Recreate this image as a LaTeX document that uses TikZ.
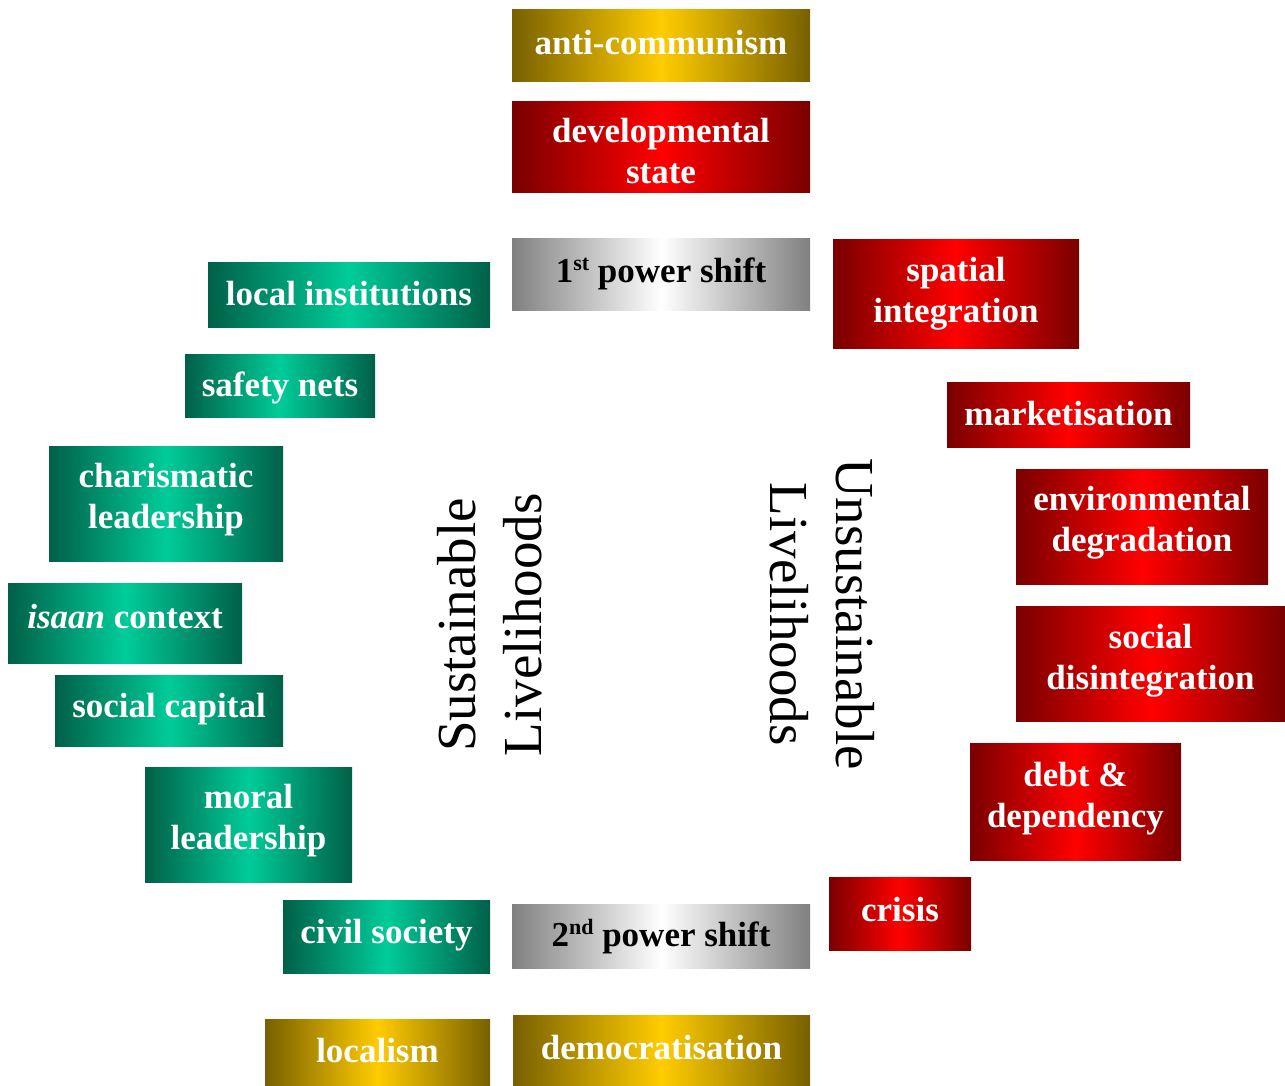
\documentclass[tikz,border=0pt]{standalone}
\usepackage{fontspec}
\setmainfont{Liberation Serif}
\definecolor{golddark}{RGB}{120,96,0}
\definecolor{goldlight}{RGB}{255,204,0}
\definecolor{reddark}{RGB}{122,0,0}
\definecolor{redlight}{RGB}{255,0,0}
\definecolor{silverdark}{RGB}{128,128,128}
\definecolor{silverlight}{RGB}{255,255,255}
\definecolor{tealdark}{RGB}{0,96,72}
\definecolor{teallight}{RGB}{0,204,153}
\newcommand{\supx}[1]{\raisebox{12pt}{\fontsize{22}{22}\selectfont #1}}
\tikzset{
  box/.style={rectangle, inner sep=0pt},
  boxtext/.style={inner sep=0pt, align=center,
    font=\fontsize{35}{41}\selectfont\bfseries, text=white},
  goldbox/.style={box, left color=golddark, right color=golddark, middle color=goldlight},
  redbox/.style={box, left color=reddark, right color=reddark, middle color=redlight},
  silverbox/.style={box, left color=silverdark, right color=silverdark, middle color=silverlight},
  tealbox/.style={box, left color=tealdark, right color=tealdark, middle color=teallight},
  biglabel/.style={align=center, font=\fontsize{55}{66}\selectfont, text=black, inner sep=0pt}
}
\begin{document}
\begin{tikzpicture}[x=1pt,y=-1pt]
\useasboundingbox (0,0) rectangle (1285,1086);
% centre column
\node[goldbox, minimum width=298pt, minimum height=72pt] (anti) at (661,46) {};
\node[boxtext, yshift=3pt] at (anti) {anti-communism};
\node[redbox, minimum width=298pt, minimum height=91pt] (dev) at (661,147.5) {};
\node[boxtext, yshift=-4pt] at (dev) {developmental\\state};
\node[silverbox, minimum width=298pt, minimum height=71pt] (ps1) at (661,274.5) {};
\node[boxtext, text=black, yshift=1pt] at (ps1) {1\supx{st} power shift};
\node[silverbox, minimum width=298pt, minimum height=64pt] (ps2) at (661,936) {};
\node[boxtext, text=black, yshift=-1pt] at (ps2) {2\supx{nd} power shift};
\node[goldbox, minimum width=297pt, minimum height=71pt] (democ) at (661.5,1050.5) {};
\node[boxtext, yshift=3pt] at (democ) {democratisation};
% left (teal)
\node[tealbox, minimum width=282pt, minimum height=65pt] (localinst) at (349,294.5) {};
\node[boxtext, yshift=1pt] at (localinst) {local institutions};
\node[tealbox, minimum width=190pt, minimum height=63pt] (safety) at (280,385.5) {};
\node[boxtext, yshift=-2pt] at (safety) {safety nets};
\node[tealbox, minimum width=234pt, minimum height=115pt] (charis) at (166,503.5) {};
\node[boxtext, yshift=4pt] at (charis) {charismatic\\leadership};
\node[tealbox, minimum width=234pt, minimum height=80pt] (isaan) at (125,623) {};
\node[boxtext, yshift=6pt] at (isaan) {\textit{isaan} context};
\node[tealbox, minimum width=228pt, minimum height=71pt] (soccap) at (169,710.5) {};
\node[boxtext, yshift=1pt] at (soccap) {social capital};
\node[tealbox, minimum width=207pt, minimum height=115pt] (moral) at (248.5,824.5) {};
\node[boxtext, yshift=4pt] at (moral) {moral\\leadership};
\node[tealbox, minimum width=207pt, minimum height=73pt] (civil) at (386.5,936.5) {};
\node[boxtext, yshift=1pt] at (civil) {civil society};
\node[goldbox, minimum width=225pt, minimum height=67pt] (localism) at (377.5,1052.5) {};
\node[boxtext, yshift=2pt] at (localism) {localism};
% right (red)
\node[redbox, minimum width=246pt, minimum height=108pt] (spatial) at (956,294) {};
\node[boxtext] at (spatial) {spatial\\integration};
\node[redbox, minimum width=243pt, minimum height=65pt] (market) at (1068.5,414.5) {};
\node[boxtext, yshift=1pt] at (market) {marketisation};
\node[redbox, minimum width=252pt, minimum height=115pt] (env) at (1142,526.5) {};
\node[boxtext, yshift=4pt] at (env) {environmental\\degradation};
\node[redbox, minimum width=269pt, minimum height=115pt] (socdis) at (1150.5,663.5) {};
\node[boxtext, yshift=3pt] at (socdis) {social\\disintegration};
\node[redbox, minimum width=211pt, minimum height=117pt] (debt) at (1075.5,801.5) {};
\node[boxtext, yshift=3pt] at (debt) {debt \&\\dependency};
\node[redbox, minimum width=142pt, minimum height=73pt] (crisis) at (900,913.5) {};
\node[boxtext, yshift=4pt] at (crisis) {crisis};
% rotated labels
\node[biglabel, rotate=90] (sust) at (490,625) {Sustainable\\Livelihoods};
\node[biglabel, rotate=-90] (unsust) at (822,614) {Unsustainable\\Livelihoods};
\end{tikzpicture}
\end{document}
